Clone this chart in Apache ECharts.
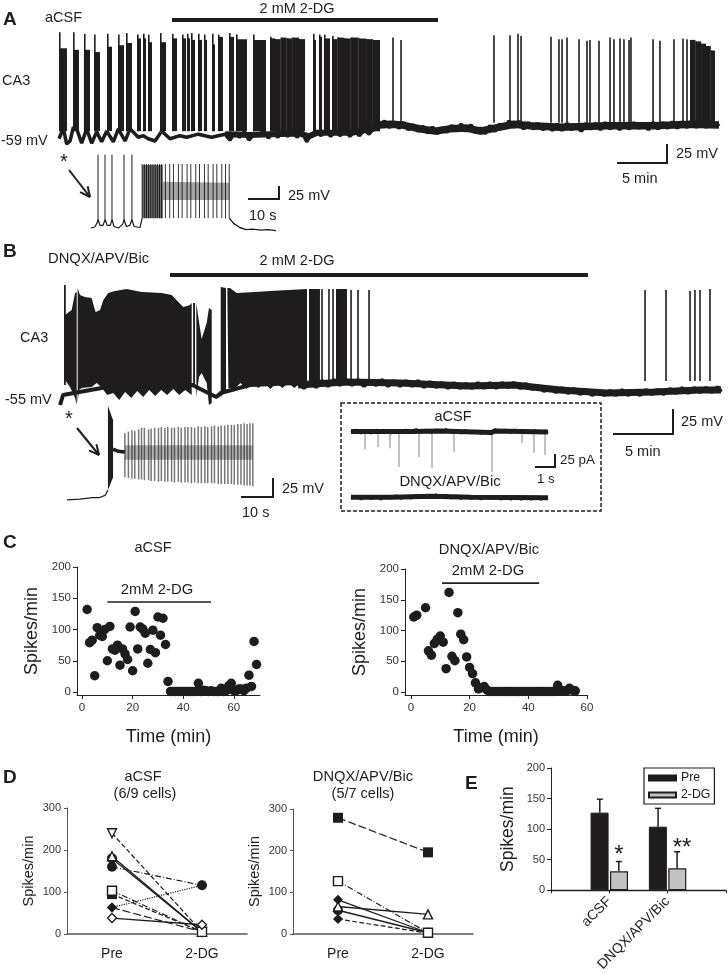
<!DOCTYPE html>
<html>
<head>
<meta charset="utf-8">
<title>2-DG CA3 recordings</title>
<script src="https://cdn.jsdelivr.net/npm/echarts@6/dist/echarts.min.js"></script>
<style>
  html, body { margin: 0; padding: 0; background: #fff; }
  #chart { width: 728px; height: 974px; }
</style>
</head>
<body>
<div id="chart"></div>
<script>
// panel A trace: burst = [start min, end min, plateau mV, first spike mV]
const aBursts = [[0,0.83,63,84],[1.46,2.08,61,84],[2.6,3.23,61,82],[3.65,4.27,58,81],[5,5.52,65,82],[6.15,6.77,67,81],[6.98,7.6,70,83],
  [8.13,8.54,76,81],[8.75,9.06,76,82],[9.27,9.69,71,81],[10.52,11.15,71,83],[11.77,12.29,76,82],[12.81,13.23,76,81],[13.33,13.65,76,82],
  [13.75,14.17,74,83],[14.48,14.9,74,82],[15.1,15.42,74,81],[15.94,16.25,68,82],[16.56,17.08,78,81],[17.71,18.23,78,83],[18.44,19.58,75,81],
  [20.21,21.56,74,81],[21.98,22.5,76,78],[22.5,23.1,75,75],[23.1,23.7,77,77],[23.7,24.3,76,76],[24.3,25,77,77],[25,25.63,75,75],
  [26.46,26.77,74,82],[27.08,27.4,78,81],[27.6,28.23,76,81],
  [28.44,29,75,79],[29,29.7,77,77],[29.7,30.4,76,76],[30.4,31.2,77,77],[31.2,32,76,76],[32,32.7,75,75],[32.7,33.44,74,74]];
const aTail = [[65.73,66.3,74,74],[66.3,66.9,72,72],[66.9,67.4,69,69],[67.4,67.9,66,66],[67.9,68.33,60,60]];
// single spikes: [min, peak mV]
const aSpikes = [[34.79,77],[35.63,74],[45.31,80],[46.98,80],[47.81,82],[48.13,79],[51.25,78],[52.08,75],[52.4,75],[52.92,77],[54.17,75],
  [55,73],[55.31,74],[56.25,73],[57.4,77],[57.81,75],[58.44,76],[58.85,75],[59.38,74],[59.58,77],[61.88,75],[62.6,73],[64.06,75],[65,76],[65.42,75]];
const aBaseEarly = [[0,-56],[0.45,-42],[0.8,-63],[1.15,-59],[1.49,-41],[1.84,-43],[2.36,-62],[2.88,-43],[3.4,-62],[3.92,-47],[4.44,-60],[4.97,-46],
  [5.66,-60],[6.18,-43],[6.88,-59],[7.4,-43],[8.26,-54],[8.78,-52],[9.3,-56],[10,-59],[10.7,-46],[11.56,-56],[12.6,-52],[13.3,-54],[14.5,-50],
  [15.9,-54],[17.3,-50],[17.8,-58],[18.3,-48],[18.8,-54],[19.3,-47],[19.8,-58],[20.3,-50],[20.8,-52],[21.3,-45],[21.8,-55],[22.3,-48],[22.8,-54],
  [23.3,-45],[23.8,-53],[24.3,-46],[24.8,-54],[25.3,-47],[25.8,-60],[26.3,-50],[26.8,-46],[27.3,-52],[27.8,-45],[28.3,-53],[28.8,-46],[29.3,-52],
  [29.8,-45],[30.3,-53],[30.8,-46],[31.3,-52],[31.8,-44],[32.3,-50],[32.8,-42],[33.4,-38]];
const aBaseEarlyCore = [[17.3,-50],[19.9,-51],[22,-50],[25.1,-49],[26,-53],[26.9,-48],[30.6,-48],[33.4,-41]];
const aBaseLate = [[33.4,-38],[33.9,-33],[34.4,-41],[34.9,-34],[35.4,-42],[35.9,-35],[36.4,-44],[36.9,-38],[37.4,-46],[37.9,-40],[38.4,-48],[38.9,-41],
  [39.4,-49],[39.9,-42],[40.4,-47],[40.9,-39],[41.4,-45],[41.9,-37],[42.4,-46],[42.9,-38],[43.4,-48],[43.9,-42],[44.4,-49],[44.9,-39],[45.4,-46],[45.9,-37],
  [46.4,-42],[46.9,-33],[47.4,-41],[47.9,-33],[48.4,-43],[48.9,-35],[49.4,-43],[49.9,-36],[50.4,-44],[50.9,-37],[51.4,-45],[51.9,-37],[52.4,-45],[52.9,-36],
  [53.4,-44],[53.9,-38],[54.4,-46],[54.9,-36],[55.4,-43],[55.9,-36],[56.4,-44],[56.9,-35],[57.4,-43],[57.9,-36],[58.4,-44],[58.9,-36],[59.4,-43],[59.9,-35],
  [60.4,-42],[60.9,-36],[61.4,-44],[61.9,-35],[62.4,-43],[62.9,-35],[63.4,-42],[63.9,-34],[64.4,-42],[64.9,-34],[65.4,-41],[65.9,-33],[66.4,-41],[66.9,-33],
  [67.4,-41],[67.9,-33],[68.4,-40],[68.75,-36]];
const aBaseLateCore = [[33.4,-38],[34.5,-37],[35.8,-38],[37.6,-43],[39.2,-46],[40.7,-43],[42.5,-42],[43.9,-46],[45.4,-42],[47.4,-37],[49.1,-39],[52.2,-41],
  [57.1,-39],[62,-39],[65.9,-37],[68.75,-38]];

// panel A inset
const aInsetBase = [[0,-61],[1.2,-59],[1.9,-52],[2.3,-45],[2.9,-56],[3.9,-56],[4.2,-50],[4.6,-45],[5.2,-56],[6.2,-56],[6.8,-45],[7.4,-58],[8.8,-61],
  [10.2,-54],[10.7,-45],[11.4,-58],[12.5,-56],[13.2,-45],[13.9,-58],[15.8,-60],[16.5,-42]];
const aInsetFall = [[44.6,-42],[46,-52],[48,-60],[50,-64],[52,-63],[55,-65],[57,-64],[59.7,-66]];
const aInsetFirstSpikes = [2.26,4.52,6.77,10.65,13.2];
const aInsetBurstSpikes = [16.5,17.2,17.9,18.6,19.3,20,20.7,21.4,22.1,22.8,24,25.4,26.6,28.2,29.4,31,32.2,33.8,35,36.6,37.8,39.4,40.6,42.2,43.4,44.6];

// panel B trace: envelope polygons, time in min, mV
const bEnvelopes = [
  { top: [[0.58,30],[1.14,35],[1.42,52],[1.56,53]], bottom: [[1.56,-60],[1.42,-53],[1.0,-42],[0.58,-35]] },
  { top: [[1.64,57],[1.83,50],[2.25,48],[2.8,47],[3.08,35],[3.14,33],[3.5,35],[3.78,45],[4.19,52],[4.75,54],[5.72,56],[6.97,53],[8.64,52],[9.47,50],[10.03,43],[10.44,38],[11,40],[11.14,42]],
    bottom: [[11.14,-50],[10.6,-45],[10.1,-50],[9.6,-44],[9.1,-50],[8.6,-45],[8.1,-51],[7.6,-45],[7.1,-52],[6.6,-46],[6.1,-53],[5.6,-47],[5.1,-55],[4.6,-48],[4.1,-50],[3.6,-42],[3.22,-38],[2.8,-42],[1.97,-43],[1.75,-45],[1.64,-58]] },
  { top: [[11.53,42],[11.69,28],[11.97,6],[12.39,22],[12.58,37],[12.81,35]], bottom: [[12.81,-58],[12.58,-60],[12.39,-38],[11.97,-28],[11.75,-32],[11.53,-52]] },
  { top: [[13.56,58],[14,57]], bottom: [[14,-45],[13.56,-52]] },
  { top: [[14.11,57],[14.33,57],[14.89,52],[16.42,53],[17.67,54],[20.75,56]],
    bottom: [[20.75,-41],[20.2,-38],[19.7,-43],[19.2,-38],[18.7,-43],[18.2,-38],[17.7,-44],[17.2,-38],[16.7,-43],[16.2,-38],[15.7,-44],[15.2,-38],[14.7,-44],[14.2,-43]] }
];
const bBlocks = [[0.5,0.62,60,60],[11.28,11.42,42,42],[20.92,21.83,56,56],[23.17,24.08,56,56]];
const bSpikes = [[22,56],[22.58,56],[22.92,56],[24.42,55],[25,55],[25.92,55],[48.92,55],[50.67,55],[52.67,54],[53.08,55],[53.5,55],[54.33,56]];
const bBase = [[0.17,-60],[0.42,-50],[5,-40],[11.2,-40],[12.85,-50],[13.2,-52],[13.56,-48],[16,-40],[20,-38],[20.5,-43],[21,-37],[21.5,-42],[22,-36],[22.5,-41],[23,-35],
  [23.5,-40],[24,-35],[24.5,-40],[25,-35],[25.5,-41],[26,-36],[26.5,-40],[27,-35],[27.5,-41],[28,-36],[28.5,-41],[29,-36],[29.5,-41],[30,-36],[30.5,-42],
  [31,-37],[31.5,-42],[32,-38],[32.5,-43],[33,-38],[33.5,-43],[34,-39],[34.5,-43],[35,-38],[35.5,-43],[36,-38],[36.5,-43],[37,-38],[37.5,-42],[38,-38],
  [38.5,-43],[39,-39],[39.5,-44],[40,-41],[40.5,-46],[41,-43],[41.5,-47],[42,-43],[42.5,-48],[43,-44],[43.5,-49],[44,-45],[44.5,-50],[45,-46],[45.5,-50],
  [46,-46],[46.5,-50],[47,-45],[47.5,-50],[48,-46],[48.5,-50],[49,-45],[49.5,-49],[50,-45],[50.5,-49],[51,-44],[51.5,-48],[52,-43],[52.5,-48],[53,-43],
  [53.5,-47],[54,-43],[54.5,-47],[55,-42],[55.25,-47]];
const bBaseCore = [[20,-40],[24,-37],[28.5,-38],[34.08,-41],[38,-40],[41.83,-45],[45.75,-48],[49.67,-47],[53.5,-45],[55.25,-45]];

// panel B inset
const bInsetBase = [[0,-55],[4,-54],[8,-52],[10,-52],[11.9,-49],[12.8,-42]];
const bInsetBurst = { top: [[12.8,69],[14.4,50]], bottom: [[14.4,-25],[12.8,-42]] };
const bInsetTail = [[14.4,12],[16,9],[18.1,8]];
// [s, peak mV, trough mV]
const bInsetSpikes = [[18.1,33,-25],[19.2,35,-26],[20.3,37,-27],[21.2,36,-27],[22.4,38,-28],[23.3,40,-28],[24.2,40,-29],[25.5,38,-29],[26.3,39,-30],[27.4,40,-30],
  [28.6,40,-31],[29.5,41,-30],[30.6,40,-31],[31.5,41,-31],[32.7,40,-31],[33.6,40,-32],[34.8,41,-31],[35.7,40,-32],[36.9,41,-32],[37.8,41,-32],
  [38.9,41,-33],[39.9,40,-32],[41,42,-33],[42,41,-33],[43.1,42,-33],[44,41,-33],[45.2,42,-33],[46.1,43,-33],[47.3,42,-34],[48.2,43,-34],
  [49.3,43,-34],[50.3,44,-34],[51.4,44,-34],[52.3,44,-35],[53.4,45,-35],[54.4,45,-35],[55.4,46,-36],[56.3,45,-36],[57.2,46,-36],[58.1,46,-37]];

// boxed voltage clamp traces, s and pA
const boxAcsfBase = [[0,-3],[0.25,2],[0.5,-4],[0.75,1],[1,-4],[1.25,2],[1.5,-3],[1.75,1],[2,-4],[2.25,1],[2.5,-3],[2.75,2],[3,-3],[3.25,3],[3.5,-2],[3.75,2],
  [4,-3],[4.25,2],[4.5,-2],[4.75,3],[5,-3],[5.25,1],[5.5,-4],[5.75,1],[6,-4],[6.25,0],[6.5,-5],[6.75,-1],[7,-6],[7.2,3],[7.45,-2],[7.7,2],[7.95,-3],[8.2,2],
  [8.45,-3],[8.7,1],[8.95,-3],[9.2,1],[9.45,-4],[9.7,0],[9.85,-4]];
const boxAcsfCore = [[0,-1],[3,-1],[4.5,0],[7,-3],[7.2,0],[9.85,-2]];
const boxDnqxBase = [[0,-130],[0.25,-125],[0.5,-131],[0.75,-125],[1,-130],[1.25,-126],[1.5,-131],[1.75,-125],[2,-129],[2.25,-124],[2.5,-130],[2.75,-125],[3,-129],
  [3.25,-123],[3.5,-128],[3.75,-123],[4,-128],[4.25,-122],[4.5,-127],[4.75,-123],[5,-129],[5.25,-124],[5.5,-130],[5.75,-125],[6,-130],[6.25,-125],[6.5,-131],[6.75,-125],
  [7,-130],[7.25,-125],[7.5,-131],[7.75,-126],[8,-131],[8.25,-126],[8.5,-131],[8.75,-126],[9,-131],[9.25,-126],[9.5,-131],[9.85,-127]];
const boxDnqxCore = [[0,-127],[2,-127],[4,-125],[6,-127],[9.85,-128]];
const boxEpsc = [[0.7,-35],[1.35,-31],[1.95,-33],[2.4,-69],[3.4,-50],[4.05,-71],[5.15,-40],[7.05,-79],[8.55,-23],[9.15,-42],[9.7,-46]];

// panel C
const cLeftTime = [2,3,4,5,6,7,8,9,10,11,12,13,14,15,16,17,18,19,20,21,22,23,24,25,26,27,28,29,30,31,32,33,34,35,36,37,38,39,40,41,42,43,44,45,46,47,48,49,50,51,52,53,54,55,56,57,58,59,60,61,62,63,64,65,66,67,68,69];
const cLeftSpikes = [132,79,83,26,103,91,89,100,50,105,69,67,75,43,69,61,52,104,34,129,69,104,101,94,46,68,99,63,120,91,118,76,17,1,1,1,1,1,1,1,1,1,1,1,14,1,3,2,1,2,1,1,1,6,1,2,10,14,2,2,5,5,2,6,27,9,81,44];
const cRightTime = [1,2,5,6,7,8,9,10,11,12,13,14,15,16,17,18,19,20,21,22,23,24,25,26,27,28,29,30,31,32,33,34,35,36,37,38,39,40,41,42,43,44,45,46,47,48,49,50,51,52,53,54,55,56];
const cRightSpikes = [122,125,137,67,60,79,86,91,81,38,162,58,51,129,94,85,57,40,30,15,5,7,9,3,1,1,1,1,1,1,1,1,1,1,1,1,1,1,1,1,1,1,1,1,1,1,1,11,2,2,2,6,3,2];
const cLeftBar = [[10,144],[51,144]];
const cRightBar = [[10.6,177],[43.7,177]];
const cTicksX = [0,20,40,60];
const cTicksY = [0,50,100,150,200];

// panel D
const dCats = ['Pre','2-DG'];
const dAcsf = [
  { v: [240,5], sym: 'triangle', rot: 180, empty: true, dash: 'dashed' },
  { v: [160,116], sym: 'circle', dash: [6,2,1,2] },
  { v: [185,5], sym: 'triangle', empty: true, dash: 'solid' },
  { v: [180,5], sym: 'circle', dash: 'solid' },
  { v: [103,5], sym: 'rect', empty: true, dash: [6,2,1,2] },
  { v: [95,5], sym: 'rect', dash: 'dashed' },
  { v: [63,116], sym: 'diamond', dash: 'dotted' },
  { v: [63,5], sym: 'diamond', dash: [8,3] },
  { v: [38,22], sym: 'diamond', empty: true, dash: 'solid' }
];
const dDnqx = [
  { v: [279,196], sym: 'rect', dash: [8,3] },
  { v: [127,3], sym: 'rect', empty: true, dash: [6,2,1,2] },
  { v: [82,3], sym: 'diamond', dash: 'solid' },
  { v: [57,3], sym: 'circle', dash: 'solid' },
  { v: [66,47], sym: 'triangle', empty: true, dash: 'solid' },
  { v: [36,2], sym: 'diamond', dash: 'dashed' }
];

// panel E
const eCats = ['', 'aCSF', 'DNQX/APV/Bic', ''];
const ePre = [null,127,104,null];
const eDg = [null,31,36,null];
const ePreErr = [149,134];
const eDgErr = [47,63];

const FONT = '"Liberation Sans", Arial, sans-serif';
const INK = '#1f1c1d';
const TICK = '#333';

function txt(x, y, text, size, extra) {
  return {
    type: 'text', x: x, y: y, silent: true, z: 20,
    style: Object.assign({ text: text, fontSize: size, fontFamily: FONT, fill: INK, textAlign: 'left', textVerticalAlign: 'middle' }, extra || {})
  };
}
function seg(x1, y1, x2, y2, w) {
  return { type: 'line', silent: true, z: 20, shape: { x1: x1, y1: y1, x2: x2, y2: y2 }, style: { stroke: INK, lineWidth: w || 2 } };
}
function arrow(x1, y1, x2, y2) {
  let a = Math.atan2(y2 - y1, x2 - x1), len = 11, sp = 0.45;
  return [seg(x1, y1, x2, y2, 2),
    seg(x2, y2, x2 - len * Math.cos(a - sp), y2 - len * Math.sin(a - sp), 2),
    seg(x2, y2, x2 - len * Math.cos(a + sp), y2 - len * Math.sin(a + sp), 2)];
}

// hidden axes for the traces
function traceGrid(left, top, width, height) { return { left: left, top: top, width: width, height: height, containLabel: false }; }
function hiddenX(g, max) { return { gridIndex: g, type: 'value', min: 0, max: max, show: false }; }
function hiddenY(g, min, max) { return { gridIndex: g, type: 'value', min: min, max: max, show: false }; }

function blockSeries(g, data, bottom) {
  return {
    type: 'custom', xAxisIndex: g, yAxisIndex: g, data: data, clip: false, silent: true,
    renderItem: function (params, api) {
      let t0 = api.value(0), t1 = api.value(1);
      let p0 = api.coord([t0, api.value(2)]), p1 = api.coord([t1, bottom]);
      let peak = api.coord([t0, api.value(3)]);
      return {
        type: 'group',
        children: [
          { type: 'rect', shape: { x: p0[0], y: p0[1], width: p1[0] - p0[0], height: p1[1] - p0[1] }, style: { fill: INK } },
          { type: 'rect', shape: { x: p0[0], y: peak[1], width: 1.6, height: p1[1] - peak[1] }, style: { fill: INK } }
        ]
      };
    }
  };
}
// items: [t, top, bottom]
function spikeSeries(g, data, width, color) {
  return {
    type: 'custom', xAxisIndex: g, yAxisIndex: g, data: data, clip: false, silent: true,
    renderItem: function (params, api) {
      let a = api.coord([api.value(0), api.value(1)]), b = api.coord([api.value(0), api.value(2)]);
      return { type: 'line', shape: { x1: a[0], y1: a[1], x2: b[0], y2: b[1] }, style: { stroke: color || INK, lineWidth: width } };
    }
  };
}
function polySeries(g, poly, color) {
  return {
    type: 'custom', xAxisIndex: g, yAxisIndex: g, data: [[poly.top[0][0], poly.top[0][1]]], clip: false, silent: true,
    renderItem: function (params, api) {
      let pts = poly.top.concat(poly.bottom).map(function (p) { return api.coord(p); });
      return { type: 'polygon', shape: { points: pts }, style: { fill: color || INK } };
    }
  };
}
function traceLine(g, data, width, color) {
  return {
    type: 'line', xAxisIndex: g, yAxisIndex: g, data: data, showSymbol: false, symbol: 'none', clip: false, silent: true,
    lineStyle: { color: color || INK, width: width, join: 'bevel' }
  };
}
function dotSeries(g, times, vals) {
  return {
    type: 'scatter', xAxisIndex: g, yAxisIndex: g, symbolSize: 9.5, clip: false,
    data: times.map(function (t, i) { return [t, vals[i]]; }),
    itemStyle: { color: INK, opacity: 1 }
  };
}
function cXAxis(g, min, max, ticks) {
  return {
    gridIndex: g, type: 'value', min: min, max: max, name: 'Time (min)', nameLocation: 'middle', nameGap: 33,
    nameTextStyle: { fontFamily: FONT, fontSize: 18, color: INK },
    splitLine: { show: false }, axisLine: { show: true, onZero: false, lineStyle: { color: '#222', width: 1 } },
    axisTick: { show: true, length: 4, customValues: ticks, lineStyle: { color: '#222' } },
    axisLabel: { customValues: ticks, fontFamily: FONT, fontSize: 11.5, color: TICK, margin: 7 }
  };
}
function cYAxis(g, min, gap) {
  return {
    gridIndex: g, type: 'value', min: min, max: 200, name: 'Spikes/min', nameLocation: 'middle', nameGap: gap,
    nameTextStyle: { fontFamily: FONT, fontSize: 18, color: INK },
    splitLine: { show: false }, axisLine: { show: true, onZero: false, lineStyle: { color: '#222', width: 1 } },
    axisTick: { show: true, length: 4, customValues: cTicksY, lineStyle: { color: '#222' } },
    axisLabel: { customValues: cTicksY, fontFamily: FONT, fontSize: 11.5, color: TICK, margin: 6 }
  };
}
function dSeries(g, list) {
  return list.map(function (s) {
    return {
      type: 'line', xAxisIndex: g, yAxisIndex: g, data: s.v, symbol: s.sym, symbolRotate: s.rot || 0, symbolSize: s.empty ? 9 : 10, showSymbol: true,
      clip: false, lineStyle: { color: INK, width: s.dash === 'solid' ? 1.3 : 1.2, type: s.dash },
      itemStyle: { color: s.empty ? '#fff' : INK, borderColor: INK, borderWidth: s.empty ? 1.4 : 0 }, z: s.empty ? 4 : 3
    };
  });
}
function dXAxis(g) {
  return {
    gridIndex: g, type: 'category', data: dCats,
    axisLine: { lineStyle: { color: '#555', width: 1.6 } },
    axisTick: { alignWithLabel: true, length: 3, lineStyle: { color: '#555' } },
    axisLabel: { fontFamily: FONT, fontSize: 14, color: INK, margin: 13 }
  };
}
function dYAxis(g) {
  return {
    gridIndex: g, type: 'value', min: 0, max: 300, interval: 100, name: 'Spikes/min', nameLocation: 'middle', nameGap: 31,
    nameTextStyle: { fontFamily: FONT, fontSize: 14.5, color: INK },
    splitLine: { show: false }, axisLine: { show: true, lineStyle: { color: '#555', width: 1 } },
    axisTick: { show: true, length: 3, lineStyle: { color: '#555' } },
    axisLabel: { fontFamily: FONT, fontSize: 11, color: TICK, margin: 6 }
  };
}

let grids = [
  traceGrid(59, 25, 660, 130),   // A trace
  traceGrid(91, 150, 190, 90),   // A inset
  traceGrid(58, 280, 666, 130),  // B trace
  traceGrid(67, 400, 190, 110),  // B inset
  traceGrid(351, 425, 197, 80),  // box traces
  { left: 77, top: 567, width: 183, height: 128 },   // C left
  { left: 405, top: 569, width: 182, height: 126 },  // C right
  { left: 67, top: 808, width: 180, height: 126 },   // D left
  { left: 293, top: 809, width: 180, height: 125 },  // D right
  { left: 551, top: 768, width: 176, height: 123 }   // E
];

let labels = [
  txt(3, 20, 'A', 19, { fontWeight: 'bold' }), txt(45, 18, 'aCSF', 14.5),
  txt(297, 9, '2 mM 2-DG', 14.5, { textAlign: 'center' }), txt(2, 81, 'CA3', 14.5), txt(1, 141, '-59 mV', 14.5),
  txt(676, 154, '25 mV', 14.5), txt(622, 179, '5 min', 14.5), txt(60, 162, '*', 20),
  txt(288, 196, '25 mV', 14.5), txt(249, 216, '10 s', 14.5),
  txt(3, 252, 'B', 19, { fontWeight: 'bold' }), txt(48, 259, 'DNQX/APV/Bic', 14.8),
  txt(297, 261, '2 mM 2-DG', 14.5, { textAlign: 'center' }), txt(20, 338, 'CA3', 14.5), txt(5, 400, '-55 mV', 14.5),
  txt(65, 419, '*', 20), txt(282, 489, '25 mV', 14.5), txt(242, 513, '10 s', 14.5),
  txt(681, 422, '25 mV', 14.5), txt(625, 452, '5 min', 14.5),
  txt(453, 417, 'aCSF', 14.5, { textAlign: 'center' }), txt(450, 482, 'DNQX/APV/Bic', 14.8, { textAlign: 'center' }),
  txt(560, 460, '25 pA', 13.3), txt(537, 479, '1 s', 13.3),
  txt(3, 543, 'C', 19, { fontWeight: 'bold' }), txt(153, 548, 'aCSF', 14.5, { textAlign: 'center' }),
  txt(157, 590, '2mM 2-DG', 14.8, { textAlign: 'center' }), txt(489, 550, 'DNQX/APV/Bic', 14.7, { textAlign: 'center' }),
  txt(488, 571, '2mM 2-DG', 14.8, { textAlign: 'center' }),
  txt(3, 778, 'D', 19, { fontWeight: 'bold' }), txt(143, 777, 'aCSF', 14.5, { textAlign: 'center' }),
  txt(145, 794, '(6/9 cells)', 14.5, { textAlign: 'center' }), txt(363, 777, 'DNQX/APV/Bic', 14.7, { textAlign: 'center' }),
  txt(363, 794, '(5/7 cells)', 14.5, { textAlign: 'center' }),
  txt(465, 784, 'E', 19, { fontWeight: 'bold' }),
  txt(619, 855, '*', 24, { textAlign: 'center' }), txt(682, 848, '**', 24, { textAlign: 'center' })
];
let shapes = [
  seg(172, 20, 438, 20, 4), seg(170, 275, 588, 275, 4),
  seg(617, 163, 668, 163, 2), seg(667, 144, 667, 163, 2),
  seg(248, 199, 280, 199, 2), seg(279, 186, 279, 199, 2),
  seg(241, 497, 274, 497, 2), seg(273, 478, 273, 497, 2),
  seg(613, 434, 674, 434, 2), seg(673, 409, 673, 434, 2),
  seg(535, 467, 556, 467, 2), seg(555, 454, 555, 467, 2),
  { type: 'rect', silent: true, z: 20, shape: { x: 341, y: 403, width: 260, height: 108 }, style: { fill: 'none', stroke: INK, lineWidth: 1.5, lineDash: [4, 2] } }
].concat(arrow(69, 170, 90, 197), arrow(77, 428, 99, 455));

let series = [
  // panel A
  traceLine(0, aBaseEarly, 3.5), traceLine(0, aBaseEarlyCore, 6),
  traceLine(0, aBaseLate, 4), traceLine(0, aBaseLateCore, 7.5),
  blockSeries(0, aBursts, -46), blockSeries(0, aTail, -36),
  spikeSeries(0, aSpikes.map(function (s) { return [s[0], s[1], -35]; }), 1.6),
  // panel A inset
  traceLine(1, aInsetBase, 1.2), traceLine(1, aInsetFall, 1.4),
  spikeSeries(1, aInsetFirstSpikes.map(function (t) { return [t, 80, -50]; }), 1),
  spikeSeries(1, aInsetBurstSpikes.map(function (t) { return [t, 62, -42]; }), 1, '#333'),
  polySeries(1, { top: [[23.2, 28], [44.6, 26]], bottom: [[44.6, -7], [23.2, -7]] }, 'rgba(0,0,0,0.35)'),
  polySeries(1, { top: [[16.5, 60], [23.2, 60]], bottom: [[23.2, -42], [16.5, -42]] }, 'rgba(0,0,0,0.55)'),
  // panel B
  traceLine(2, bBase, 4), traceLine(2, bBaseCore, 7),
  blockSeries(2, bBlocks, -40),
  spikeSeries(2, bSpikes.map(function (s) { return [s[0], s[1], -36]; }), 1.6)
].concat(bEnvelopes.map(function (p) { return polySeries(2, p); }), [
  // panel B inset
  traceLine(3, bInsetBase, 1.2), traceLine(3, bInsetTail, 3.5),
  polySeries(3, bInsetBurst),
  spikeSeries(3, bInsetSpikes, 1.5, '#777'),
  polySeries(3, { top: [[18.1, 17], [58, 17]], bottom: [[58, -2], [18.1, -2]] }, 'rgba(0,0,0,0.3)'),
  // boxed traces
  traceLine(4, boxAcsfBase, 2.5), traceLine(4, boxAcsfCore, 5), traceLine(4, boxDnqxBase, 2.5), traceLine(4, boxDnqxCore, 5),
  spikeSeries(4, boxEpsc.map(function (e) { return [e[0], 0, e[1]]; }), 0.8, '#666'),
  // panel C
  dotSeries(5, cLeftTime, cLeftSpikes),
  traceLine(5, cLeftBar, 1.6),
  dotSeries(6, cRightTime, cRightSpikes),
  traceLine(6, cRightBar, 1.6)
], dSeries(7, dAcsf), dSeries(8, dDnqx), [
  // panel E
  { name: 'Pre', type: 'bar', xAxisIndex: 9, yAxisIndex: 9, data: ePre, barWidth: 18, barGap: '8%', itemStyle: { color: INK, borderColor: INK, borderWidth: 1 } },
  { name: '2-DG', type: 'bar', xAxisIndex: 9, yAxisIndex: 9, data: eDg, barWidth: 18, barGap: '8%', itemStyle: { color: '#c2c2c2', borderColor: INK, borderWidth: 1.2 } },
  {
    type: 'custom', xAxisIndex: 9, yAxisIndex: 9, silent: true, z: 5,
    data: [[1, ePre[1], ePreErr[0], -1], [2, ePre[2], ePreErr[1], -1], [1, eDg[1], eDgErr[0], 1], [2, eDg[2], eDgErr[1], 1]],
    renderItem: function (params, api) {
      let off = api.value(3) * 9.5;
      let base = api.coord([api.value(0), api.value(1)]), up = api.coord([api.value(0), api.value(2)]);
      let x = base[0] + off;
      return {
        type: 'group',
        children: [
          { type: 'line', shape: { x1: x, y1: base[1], x2: x, y2: up[1] }, style: { stroke: INK, lineWidth: 1.5 } },
          { type: 'line', shape: { x1: x - 3, y1: up[1], x2: x + 3, y2: up[1] }, style: { stroke: INK, lineWidth: 1.5 } }
        ]
      };
    }
  }
]);

let chart = echarts.init(document.getElementById('chart'), null, { renderer: 'canvas' });
chart.setOption({
  animation: false,
  backgroundColor: '#fff',
  textStyle: { fontFamily: FONT },
  grid: grids,
  xAxis: [
    hiddenX(0, 68.75), hiddenX(1, 61.3), hiddenX(2, 55.5), hiddenX(3, 59.4), hiddenX(4, 9.85),
    cXAxis(5, -2, 70.36, cTicksX), cXAxis(6, -2, 60, cTicksX.concat([])),
    dXAxis(7), dXAxis(8),
    {
      gridIndex: 9, type: 'category', data: eCats, boundaryGap: false,
      axisLine: { lineStyle: { color: '#222', width: 1.4 } },
      axisTick: { show: true, length: 3, alignWithLabel: true, lineStyle: { color: '#222' } },
      axisLabel: { interval: 0, rotate: 45, fontFamily: FONT, fontSize: 14, color: INK, margin: 9 }
    }
  ],
  yAxis: [
    hiddenY(0, -77.4, 93.6), hiddenY(1, -84, 89), hiddenY(2, -65, 65), hiddenY(3, -68.2, 76.6), hiddenY(4, -142, 11.5),
    cYAxis(5, -4.8, 36), cYAxis(6, -4.8, 36),
    dYAxis(7), dYAxis(8),
    {
      gridIndex: 9, type: 'value', min: 0, max: 200, interval: 50, name: 'Spikes/min', nameLocation: 'middle', nameGap: 34,
      nameTextStyle: { fontFamily: FONT, fontSize: 17.5, color: INK },
      splitLine: { show: false }, axisLine: { show: true, lineStyle: { color: '#222', width: 1 } },
      axisTick: { show: true, length: 4, lineStyle: { color: '#222' } },
      axisLabel: { fontFamily: FONT, fontSize: 11, color: TICK, margin: 6 }
    }
  ],
  legend: {
    data: [{ name: 'Pre', icon: 'rect' }, { name: '2-DG', icon: 'rect' }], left: 644, top: 768, orient: 'vertical', itemWidth: 27, itemHeight: 5, itemGap: 5, padding: [4, 4, 3, 4],
    borderColor: INK, borderWidth: 1.2, backgroundColor: '#fff', z: 10,
    textStyle: { fontFamily: FONT, fontSize: 12.3, color: INK }, selectedMode: false
  },
  graphic: { elements: labels.concat(shapes) },
  series: series
});
</script>
</body>
</html>
